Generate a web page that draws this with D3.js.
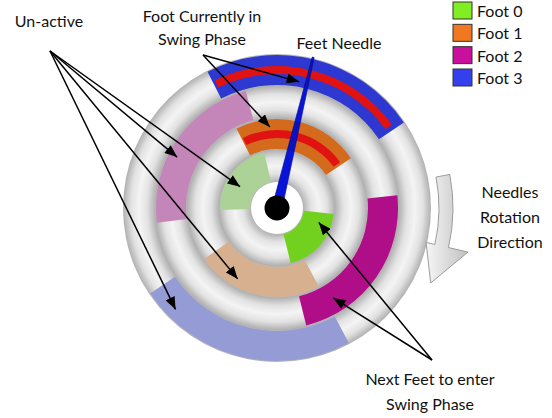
<!DOCTYPE html>
<html>
<head>
<meta charset="utf-8">
<script src="https://cdn.jsdelivr.net/npm/d3@7"></script>
<style>
  body { margin: 0; background: #fff; }
  text { font-family: Lato, "Open Sans", sans-serif; fill: #111; }
</style>
</head>
<body>
<div id="chart"></div>
<script>
// feet and their colours
const feet = ["Foot 0", "Foot 1", "Foot 2", "Foot 3"];
const activeColors = ["#80ee22", "#f07820", "#c8109c", "#3340ec"];
const inactiveColors = ["#c4eeac", "#f4c8a2", "#df98d2", "#a8b0f2"];

// phase arcs per foot, degrees clockwise from 12 o'clock
const activeArcs = [[96, 166], [-27, 56], [84, 166], [-27, 56]];
const inactiveArcs = [[268, 347], [152, 235], [263, 345], [152, 236]];
const swingFeet = [1, 3];
const needleAngle = 13.5;

// annotation arrows: ring position (0..4) and angle of each target
const unactiveTargets = [[3.67, 225], [1.72, 209], [2.69, 297], [0.52, 300]];
const swingTargets = [[3.19, 10], [1.73, -5]];
const nextTargets = [[0.57, 109], [2.5, 148]];

const W = 552, H = 418;
const cx = 277, cy = 208;

const svg = d3.select("#chart").append("svg")
  .attr("width", W).attr("height", H);

const rad = d3.scaleLinear().domain([0, 4]).range([26, 154]);
const toRad = d => d * Math.PI / 180;
const polar = (r, a) => [cx + r * Math.sin(toRad(a)), cy - r * Math.cos(toRad(a))];

const defs = svg.append("defs");

// tube shading, one band per ring
const tube = defs.append("radialGradient").attr("id", "tube")
  .attr("gradientUnits", "userSpaceOnUse")
  .attr("cx", cx).attr("cy", cy).attr("r", rad(4));
const shade = defs.append("radialGradient").attr("id", "shade")
  .attr("gradientUnits", "userSpaceOnUse")
  .attr("cx", cx).attr("cy", cy).attr("r", rad(4));
tube.append("stop").attr("offset", 0).attr("stop-color", "#fff");
shade.append("stop").attr("offset", 0).attr("stop-color", "#000").attr("stop-opacity", 0);
d3.range(4).forEach(i => {
  const r0 = rad(i) / rad(4), r1 = rad(i + 1) / rad(4), rm = (r0 + r1) / 2;
  const q = (r1 - r0) / 4;
  tube.append("stop").attr("offset", r0 + 0.002).attr("stop-color", "#b4b4b4");
  tube.append("stop").attr("offset", r0 + q).attr("stop-color", "#e2e2e2");
  tube.append("stop").attr("offset", rm).attr("stop-color", "#f4f4f4");
  tube.append("stop").attr("offset", r1 - q).attr("stop-color", "#e2e2e2");
  tube.append("stop").attr("offset", r1).attr("stop-color", "#b0b0b0");
  shade.append("stop").attr("offset", r0 + 0.002).attr("stop-color", "#000").attr("stop-opacity", 0.12);
  shade.append("stop").attr("offset", r0 + q).attr("stop-color", "#000").attr("stop-opacity", 0);
  shade.append("stop").attr("offset", rm).attr("stop-color", "#fff").attr("stop-opacity", 0.06);
  shade.append("stop").attr("offset", r1 - q).attr("stop-color", "#000").attr("stop-opacity", 0);
  shade.append("stop").attr("offset", r1).attr("stop-color", "#000").attr("stop-opacity", 0.12);
});

const arrowGrad = defs.append("linearGradient").attr("id", "rotGrad")
  .attr("x1", 0).attr("y1", 0).attr("x2", 1).attr("y2", 0);
arrowGrad.append("stop").attr("offset", 0).attr("stop-color", "#f6f6f6");
arrowGrad.append("stop").attr("offset", 1).attr("stop-color", "#c0c0c0");

defs.append("marker").attr("id", "head")
  .attr("viewBox", "0 0 10 8").attr("refX", 10).attr("refY", 4)
  .attr("markerUnits", "userSpaceOnUse")
  .attr("markerWidth", 13).attr("markerHeight", 10)
  .attr("orient", "auto")
  .append("path").attr("d", "M0,0L10,4L0,8Z").attr("fill", "#000");

// disc
svg.append("circle").attr("cx", cx).attr("cy", cy).attr("r", rad(4))
  .attr("fill", "url(#tube)");

const g = svg.append("g").attr("transform", `translate(${cx},${cy})`);
const arc = d3.arc();

feet.forEach((f, i) => {
  [[inactiveArcs[i], inactiveColors[i]], [activeArcs[i], activeColors[i]]].forEach(([a, c]) => {
    const d = arc({ innerRadius: rad(i) + 1, outerRadius: rad(i + 1) - 1,
      startAngle: toRad(a[0]), endAngle: toRad(a[1]) });
    g.append("path").attr("d", d).attr("fill", c);
  });
});

// shading over coloured segments
feet.forEach((f, i) => {
  [inactiveArcs[i], activeArcs[i]].forEach(a => {
    const d = arc({ innerRadius: rad(i) + 1, outerRadius: rad(i + 1) - 1,
      startAngle: toRad(a[0]), endAngle: toRad(a[1]) });
    svg.append("path").attr("d", d).attr("transform", `translate(${cx},${cy})`)
      .attr("fill", "url(#shade)");
  });
});

// red stripes on feet in swing
swingFeet.forEach(i => {
  const rm = (rad(i) + rad(i + 1)) / 2;
  g.append("path")
    .attr("d", arc({ innerRadius: rm - 4, outerRadius: rm + 4,
      startAngle: toRad(activeArcs[i][0] + 1), endAngle: toRad(activeArcs[i][1] - 2) }))
    .attr("fill", "#ff1414");
});

// centre hole
g.append("circle").attr("r", rad(0)).attr("fill", "#fff");

// needle
const tip = rad(4) + 1;
const base = 5;
const nPts = [[-base, 0], [-1, -tip], [1, -tip], [base, 0]];
g.append("path")
  .attr("d", d3.line()(nPts) + "Z")
  .attr("transform", `rotate(${needleAngle})`)
  .attr("fill", "#0a14d8").attr("stroke", "#06108a").attr("stroke-width", 0.6);
g.append("circle").attr("r", 12.5).attr("fill", "#000");

// rotation arrow
const rIn = 162, rOut = 176, a0 = 79, a1 = 103;
const p = d3.path();
const s = polar(rOut, a0);
p.moveTo(s[0], s[1]);
p.arc(cx, cy, rOut, toRad(a0 - 90), toRad(a1 - 90));
let q = polar(rOut + 20, a1); p.lineTo(q[0], q[1]);
q = polar((rIn + rOut) / 2 + 2, 116); p.lineTo(q[0], q[1]);
q = polar(rIn - 9, a1); p.lineTo(q[0], q[1]);
q = polar(rIn, a1); p.lineTo(q[0], q[1]);
p.arc(cx, cy, rIn, toRad(a1 - 90), toRad(a0 - 90), true);
p.closePath();
svg.append("path").attr("d", p.toString())
  .attr("fill", "url(#rotGrad)").attr("stroke", "#9c9c9c").attr("stroke-width", 1);

// annotation arrows
function arrows(from, targets) {
  targets.forEach(([pos, ang]) => {
    const t = polar(rad(pos), ang);
    svg.append("line")
      .attr("x1", from[0]).attr("y1", from[1])
      .attr("x2", t[0]).attr("y2", t[1])
      .attr("stroke", "#000").attr("stroke-width", 1.5)
      .attr("marker-end", "url(#head)");
  });
}
arrows([50, 51], unactiveTargets);
arrows([203, 55], swingTargets);
arrows([432, 360], nextTargets);

// labels
const label = (x, y, t, anchor = "middle") => svg.append("text")
  .attr("x", x).attr("y", y).attr("text-anchor", anchor)
  .style("font-size", "16px").text(t);
label(49, 27, "Un-active");
label(202, 22, "Foot Currently in");
label(202, 45, "Swing Phase");
label(339, 49, "Feet Needle");
label(510, 198, "Needles");
label(510, 223, "Rotation");
label(510, 248, "Direction");
label(430, 385, "Next Feet to enter");
label(430, 410, "Swing Phase");

// legend
const ly = d3.scaleLinear().domain([0, 3]).range([2, 69]);
feet.forEach((f, i) => {
  svg.append("rect").attr("x", 453).attr("y", ly(i))
    .attr("width", 19).attr("height", 17)
    .attr("fill", activeColors[i]).attr("stroke", "#333").attr("stroke-width", 1);
  label(477, ly(i) + 15, f, "start");
});
</script>
</body>
</html>
